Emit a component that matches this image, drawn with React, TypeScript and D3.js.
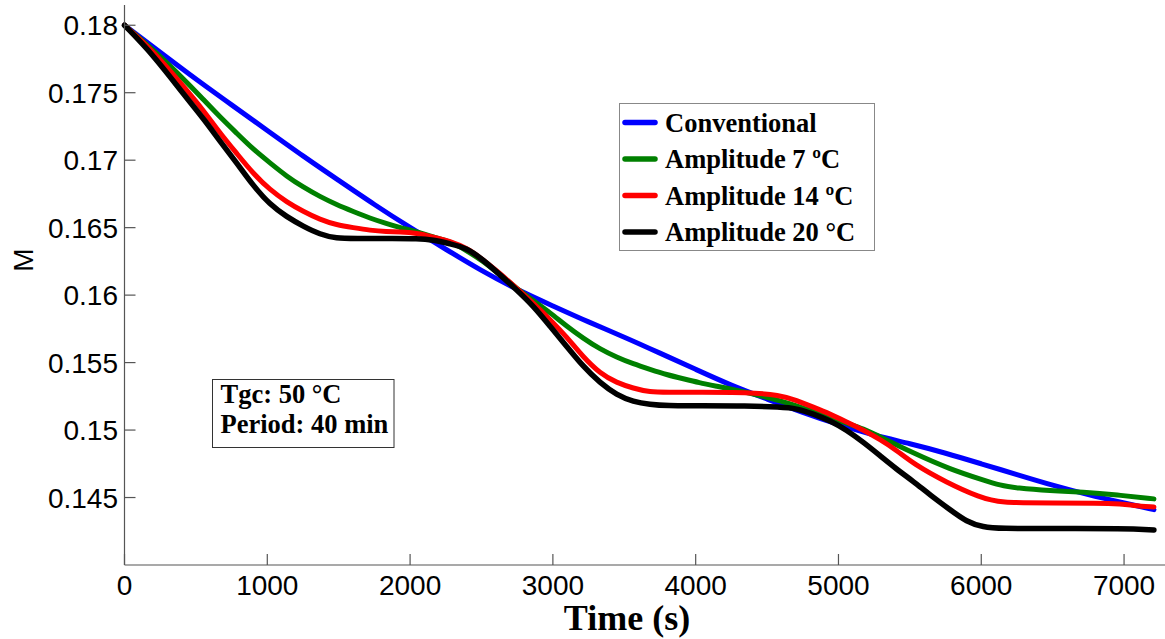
import React from "react";
import * as d3 from "d3";

const xTicks = [0, 1000, 2000, 3000, 4000, 5000, 6000, 7000];
const yTicks = [0.145, 0.15, 0.155, 0.16, 0.165, 0.17, 0.175, 0.18];

const convT = [0, 250, 500, 750, 1000, 1250, 1500, 1750, 2000, 2250, 2500, 2750, 3000, 3250, 3500, 3750, 4000, 4250, 4500, 4750, 5000, 5250, 5500, 5750, 6000, 6250, 6500, 6750, 7000, 7209];
const convM = [0.18, 0.178, 0.176, 0.1741, 0.1722, 0.1703, 0.1685, 0.1667, 0.165, 0.1634, 0.1618, 0.1604, 0.1592, 0.158, 0.1569, 0.1557, 0.1545, 0.1533, 0.1523, 0.1513, 0.1504, 0.1496, 0.149, 0.1483, 0.1475, 0.1467, 0.1459, 0.1452, 0.1446, 0.1441];

const amp7T = [0, 202, 435, 552, 669, 786, 902, 1019, 1136, 1252, 1369, 1486, 1602, 1719, 1836, 1929, 2046, 2163, 2279, 2396, 2513, 2630, 2746, 2863, 2980, 3097, 3213, 3330, 3447, 3563, 3680, 3797, 3913, 4030, 4123, 4357, 4590, 4824, 5057, 5174, 5291, 5524, 5781, 6014, 6131, 6248, 6481, 6714, 6948, 7209];
const amp7M = [0.18, 0.1782, 0.1758, 0.1745, 0.1732, 0.172, 0.1708, 0.1698, 0.1688, 0.168, 0.1673, 0.1667, 0.1662, 0.1657, 0.1653, 0.165, 0.1647, 0.1643, 0.164, 0.1633, 0.1625, 0.1615, 0.1605, 0.1596, 0.1587, 0.1577, 0.1568, 0.156, 0.1554, 0.1549, 0.1545, 0.1541, 0.1538, 0.1535, 0.1533, 0.1528, 0.1522, 0.1514, 0.1505, 0.1501, 0.1495, 0.1483, 0.1471, 0.1463, 0.1459, 0.1457, 0.1455, 0.1454, 0.1452, 0.1449];

const amp14T = [0, 202, 435, 552, 669, 786, 902, 1019, 1136, 1252, 1369, 1486, 1602, 1719, 1836, 1929, 2046, 2163, 2279, 2396, 2513, 2630, 2746, 2863, 2980, 3097, 3213, 3330, 3447, 3563, 3680, 3797, 4030, 4357, 4590, 4707, 4824, 4940, 5057, 5174, 5291, 5407, 5524, 5758, 5991, 6131, 6481, 6948, 7064, 7209];
const amp14M = [0.18, 0.1781, 0.1752, 0.1737, 0.172, 0.1705, 0.169, 0.1678, 0.1669, 0.1662, 0.1656, 0.1652, 0.165, 0.1648, 0.1647, 0.1647, 0.1646, 0.1643, 0.164, 0.1635, 0.1626, 0.1616, 0.1605, 0.1594, 0.1582, 0.1569, 0.1554, 0.1542, 0.1535, 0.1531, 0.1528, 0.1528, 0.1528, 0.1528, 0.1526, 0.1522, 0.1517, 0.1512, 0.1506, 0.15, 0.1493, 0.1485, 0.1475, 0.1461, 0.145, 0.1446, 0.1446, 0.1446, 0.1444, 0.1443];

const amp20T = [0, 202, 435, 552, 669, 786, 902, 1019, 1136, 1252, 1369, 1486, 1602, 1900, 2046, 2163, 2279, 2396, 2513, 2630, 2746, 2863, 2980, 3097, 3213, 3330, 3447, 3563, 3680, 3797, 4030, 4357, 4590, 4707, 4824, 4940, 5057, 5174, 5291, 5407, 5524, 5641, 5781, 5898, 6014, 6131, 6500, 7000, 7209];
const amp20M = [0.18, 0.1778, 0.1746, 0.1731, 0.1714, 0.1698, 0.1681, 0.1667, 0.1658, 0.1651, 0.1645, 0.1642, 0.1642, 0.1642, 0.1642, 0.1641, 0.1638, 0.1635, 0.1626, 0.1615, 0.1604, 0.1592, 0.1577, 0.1562, 0.1547, 0.1535, 0.1526, 0.1521, 0.1519, 0.1518, 0.1518, 0.1518, 0.1517, 0.1516, 0.1512, 0.1507, 0.15, 0.1491, 0.1481, 0.1471, 0.1462, 0.1452, 0.1441, 0.1432, 0.1428, 0.1427, 0.1427, 0.1427, 0.1426];

const seriesNames = ["Conventional", "Amplitude 7 ºC", "Amplitude 14 ºC", "Amplitude 20 °C"];
const seriesColors = ["#0000ff", "#008000", "#ff0000", "#000000"];
const seriesT = [convT, amp7T, amp14T, amp20T];
const seriesM = [convM, amp7M, amp14M, amp20M];

const infoLines = ["Tgc: 50 °C", "Period: 40 min"];

export default function App() {
  const W = 1165;
  const H = 639;
  const x = d3.scaleLinear().domain([0, 7300]).range([124.5, 1166.9]);
  const y = d3.scaleLinear().domain([0.14, 0.1815]).range([565, 5]);
  const line = d3
    .line<[number, number]>()
    .x((d) => x(d[0]))
    .y((d) => y(d[1]))
    .curve(d3.curveBasis);

  const axisColor = "#555";
  const sans = "Liberation Sans, Arial, sans-serif";
  const serif = "Liberation Serif, Times New Roman, serif";

  return (
    <svg
      width={W}
      height={H}
      style={{ position: "absolute", left: 0, top: 0, background: "#fff" }}
    >
      <rect x={0} y={0} width={W} height={H} fill="#fff" />
      {seriesT.map((ts, i) => {
        const pts: [number, number][] = ts.map((t, j) => [t, seriesM[i][j]]);
        return (
          <path
            key={i}
            d={line(pts) || ""}
            fill="none"
            stroke={seriesColors[i]}
            strokeWidth={i === 3 ? 5.5 : 5}
            strokeLinejoin="round"
            strokeLinecap="round"
          />
        );
      })}
      <line x1={x(0)} x2={W} y1={y(0.14)} y2={y(0.14)} stroke={axisColor} strokeWidth={1.2} />
      <line x1={x(0)} x2={x(0)} y1={y(0.14)} y2={y(0.1815)} stroke={axisColor} strokeWidth={1.2} />
      {xTicks.map((t) => (
        <g key={"xt" + t}>
          <line x1={x(t)} x2={x(t)} y1={y(0.14)} y2={y(0.14) - 11} stroke={axisColor} strokeWidth={1.2} />
          <text x={x(t)} y={595} textAnchor="middle" fontFamily={sans} fontSize={28} fill="#000">
            {t}
          </text>
        </g>
      ))}
      {yTicks.map((v) => (
        <g key={"yt" + v}>
          <line x1={x(0)} x2={x(0) + 11} y1={y(v)} y2={y(v)} stroke={axisColor} strokeWidth={1.2} />
          <text x={118} y={y(v) + 10} textAnchor="end" fontFamily={sans} fontSize={28} fill="#000">
            {String(v)}
          </text>
        </g>
      ))}
      <text x={627} y={630} textAnchor="middle" fontFamily={serif} fontWeight="bold" fontSize={36} fill="#000">
        Time (s)
      </text>
      <text
        transform="translate(33,260) rotate(-90)"
        textAnchor="middle"
        fontFamily={sans}
        fontSize={28}
        fill="#000"
      >
        M
      </text>
      <rect x={619.5} y={103.5} width={255} height={147} fill="#fff" stroke="#888" strokeWidth={1} />
      {seriesNames.map((n, i) => {
        const ly = 122.5 + i * 36.5;
        return (
          <g key={"lg" + i}>
            <line x1={625} x2={655} y1={ly} y2={ly} stroke={seriesColors[i]} strokeWidth={5.5} strokeLinecap="round" />
            <text x={665} y={ly + 9} fontFamily={serif} fontWeight="bold" fontSize={26.5} fill="#000">
              {n}
            </text>
          </g>
        );
      })}
      <rect x={212.5} y={379.5} width={181.5} height={68} fill="#fff" stroke="#333" strokeWidth={1} />
      {infoLines.map((s, i) => (
        <text key={"in" + i} x={220.5} y={403 + i * 30} fontFamily={serif} fontWeight="bold" fontSize={26.5} fill="#000">
          {s}
        </text>
      ))}
    </svg>
  );
}
